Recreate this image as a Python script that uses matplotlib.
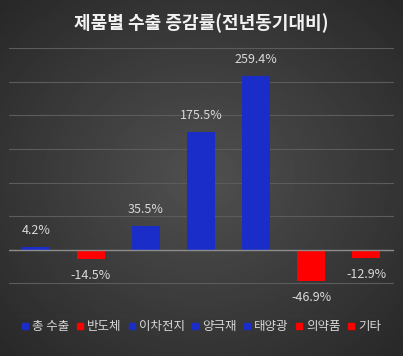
import matplotlib.pyplot as plt
import numpy as np
from matplotlib.lines import Line2D

plt.rcParams['font.family'] = ['Noto Sans CJK KR', 'DejaVu Sans']

# 데이터
품목 = ["총 수출", "반도체", "이차전지", "양극재", "태양광", "의약품", "기타"]
증감률 = [4.2, -14.5, 35.5, 175.5, 259.4, -46.9, -12.9]

파랑 = "#1b2dc8"
빨강 = "#ff0000"
글자색 = "#d9d9d9"
색상 = [파랑 if v >= 0 else 빨강 for v in 증감률]

fig = plt.figure(figsize=(4.03, 3.56), dpi=100)

# 배경 (가운데가 밝은 그라데이션)
bg = fig.add_axes([0, 0, 1, 1], zorder=-1)
yy, xx = np.mgrid[-1:1:200j, -1:1:200j]
r = np.clip(np.sqrt(xx**2 + yy**2) / 1.41, 0, 1)
밝기 = (0x50 - (0x50 - 0x28) * r) / 255
bg.imshow(밝기, cmap="gray", vmin=0, vmax=1, aspect="auto", extent=[0, 1, 0, 1])
bg.axis("off")

ax = fig.add_axes([8.5 / 403, 1 - 316.7 / 356, 385 / 403, (316.7 - 48.3) / 356])
ax.set_facecolor("none")

x = np.arange(len(품목))
ax.bar(x, 증감률, width=0.5, color=색상, zorder=3)

for i, v in enumerate(증감률):
    if v >= 0:
        ax.annotate(f"{v}%", (i, v), xytext=(0, 7), textcoords="offset points",
                    ha="center", va="bottom", color=글자색, fontsize=9)
    else:
        ax.annotate(f"{v}%", (i, v), xytext=(0, -7), textcoords="offset points",
                    ha="center", va="top", color=글자색, fontsize=9)

ax.set_xlim(-0.5, len(품목) - 0.5)
ax.set_ylim(-100, 300)
for g in range(-100, 301, 50):
    ax.axhline(g, color="#5c5c5c", lw=0.8, zorder=1)
ax.axhline(0, color="#8c8c8c", lw=1.0, zorder=4)
ax.set_xticks([])
ax.set_yticks([])
for s in ax.spines.values():
    s.set_visible(False)

fig.text(0.5, 0.935, "제품별 수출 증감률(전년동기대비)", ha="center", va="center",
         color="#f2f2f2", fontsize=13, fontweight="bold")

핸들 = [Line2D([], [], ls="", marker="s", markersize=4.5, color=c) for c in 색상]
leg = fig.legend(핸들, 품목, loc="center", bbox_to_anchor=(0.5, 0.083), ncol=7,
                 frameon=False, fontsize=9, handlelength=0.5, handletextpad=0.3,
                 columnspacing=0.6, labelcolor=글자색)

fig.savefig("out.png", dpi=100)
